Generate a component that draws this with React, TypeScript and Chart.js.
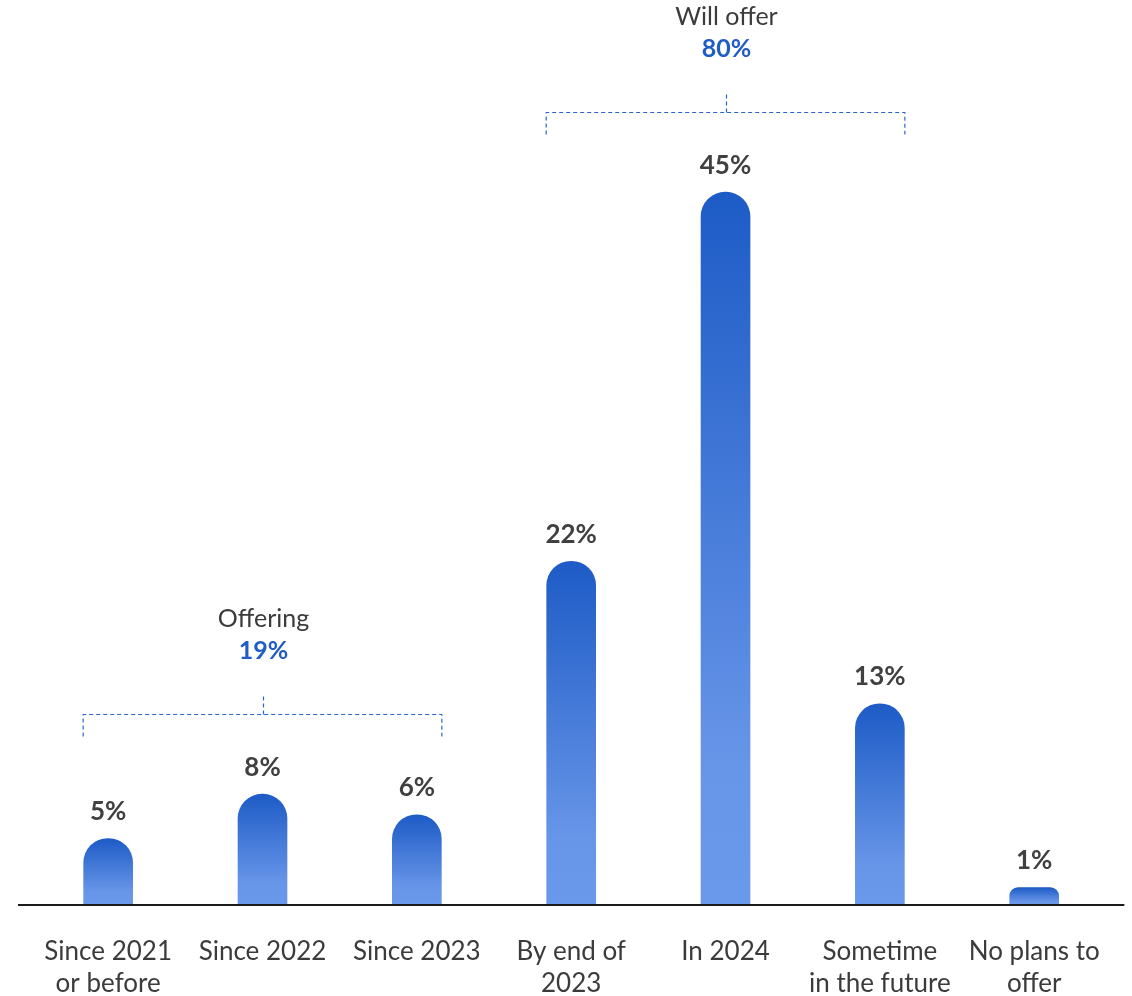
import React, { useEffect, useRef } from "react";
import { Chart, registerables } from "chart.js";

Chart.register(...registerables);

// ---- data ----
const categories: (string | string[])[] = [
  ["Since 2021", "or before"],
  "Since 2022",
  "Since 2023",
  ["By end of", "2023"],
  "In 2024",
  ["Sometime", "in the future"],
  ["No plans to", "offer"],
];
// bar heights as drawn in the picture (percent)
const barValues = [4.2, 7.0, 5.7, 21.7, 45.0, 12.7, 1.1];
// printed percentages above bars
const valueLabels = [5, 8, 6, 22, 45, 13, 1];

const groupTitles = ["Offering", "Will offer"];
const groupTotals = [19, 80];
const groupStart = [0, 3];
const groupEnd = [2, 5];

const FONT = "Lato";
const TEXT = "#3b3b3b";
const BLUE = "#1f5cc7";

const overlayPlugin = {
  id: "overlay",
  afterDatasetsDraw(chart: any) {
    const { ctx, chartArea, scales } = chart;
    const meta = chart.getDatasetMeta(0);
    const y = scales.y;
    const base = y.getPixelForValue(0);

    ctx.save();
    // baseline
    ctx.strokeStyle = "#1a1a1a";
    ctx.lineWidth = 2;
    ctx.beginPath();
    ctx.moveTo(chartArea.left - 13, base);
    ctx.lineTo(chartArea.right + 13, base);
    ctx.stroke();

    // value labels
    ctx.fillStyle = "#404040";
    ctx.font = `bold 26px ${FONT}`;
    ctx.textAlign = "center";
    ctx.textBaseline = "middle";
    meta.data.forEach((bar: any, i: number) => {
      ctx.fillText(`${valueLabels[i]}%`, bar.x, bar.y - 27);
    });

    // group brackets
    groupTitles.forEach((title, g) => {
      const first = meta.data[groupStart[g]];
      const last = meta.data[groupEnd[g]];
      const x0 = first.x - first.width / 2 - 0.5;
      const x1 = last.x + last.width / 2 + 0.5;
      let top = Infinity;
      for (let i = groupStart[g]; i <= groupEnd[g]; i++) {
        top = Math.min(top, meta.data[i].y);
      }
      const by = Math.round(top - 80) + 0.5;
      const cx = Math.round((x0 + x1) / 2) + 0.5;
      ctx.strokeStyle = "#2a64cf";
      ctx.lineWidth = 1.2;
      ctx.setLineDash([4, 3]);
      ctx.beginPath();
      ctx.moveTo(x0, by + 22);
      ctx.lineTo(x0, by);
      ctx.lineTo(x1, by);
      ctx.lineTo(x1, by + 22);
      ctx.moveTo(cx, by);
      ctx.lineTo(cx, by - 21);
      ctx.stroke();
      ctx.setLineDash([]);

      ctx.fillStyle = TEXT;
      ctx.font = `25px ${FONT}`;
      ctx.fillText(title, cx, by - 96);
      ctx.fillStyle = BLUE;
      ctx.font = `bold 25px ${FONT}`;
      ctx.fillText(`${groupTotals[g]}%`, cx, by - 64);
    });
    ctx.restore();
  },
};

export default function App() {
  const canvasRef = useRef<HTMLCanvasElement | null>(null);

  useEffect(() => {
    if (!canvasRef.current) return;
    const chart = new Chart(canvasRef.current, {
      type: "bar",
      data: {
        labels: categories,
        datasets: [
          {
            data: barValues,
            barThickness: 49,
            borderSkipped: "bottom",
            borderRadius: { topLeft: 25, topRight: 25, bottomLeft: 0, bottomRight: 0 },
            backgroundColor: (c: any) => {
              const chart = c.chart;
              const area = chart.chartArea;
              if (!area || c.type !== "data") return "#4a7ed8";
              const ys = chart.scales.y;
              const top = ys.getPixelForValue(c.raw);
              const bottom = ys.getPixelForValue(0);
              const grad = chart.ctx.createLinearGradient(0, top, 0, bottom);
              grad.addColorStop(0, "#1d5bc6");
              grad.addColorStop(0.8, "#6795e8");
              grad.addColorStop(1, "#6a98ea");
              return grad;
            },
          } as any,
        ],
      },
      options: {
        animation: false,
        responsive: true,
        maintainAspectRatio: false,
        layout: { padding: { left: 31, right: 19, top: 0, bottom: 0 } },
        plugins: {
          legend: { display: false },
          tooltip: { enabled: false },
        },
        scales: {
          x: {
            grid: { display: false, drawTicks: false },
            border: { display: false },
            ticks: {
              color: TEXT,
              padding: 31,
              maxRotation: 0,
              autoSkip: false,
              font: { family: FONT, size: 26, lineHeight: "32px" as any },
            },
          },
          y: {
            display: false,
            min: 0,
            max: 57.13,
          },
        },
      },
      plugins: [overlayPlugin],
    });
    return () => chart.destroy();
  }, []);

  return (
    <div
      style={{
        position: "fixed",
        left: 0,
        top: 0,
        width: 1132,
        height: 1031,
        background: "#ffffff",
      }}
    >
      <canvas ref={canvasRef} />
    </div>
  );
}
